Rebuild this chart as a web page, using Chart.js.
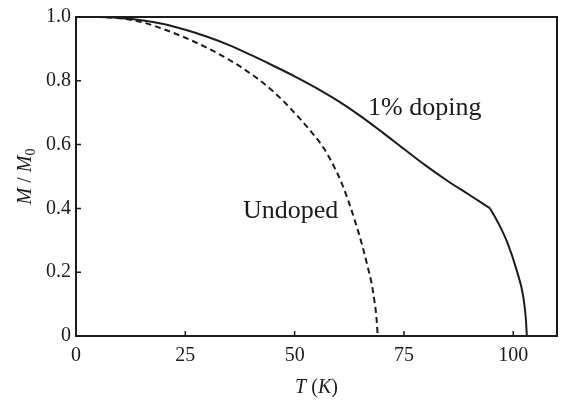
<!DOCTYPE html>
<html>
<head>
<meta charset="utf-8">
<script src="https://cdn.jsdelivr.net/npm/chart.js"></script>
<style>
  html, body { margin: 0; padding: 0; background: #fff; }
  #wrap { width: 564px; height: 401px; }
</style>
</head>
<body>
<div id="wrap"><canvas id="magChart" width="564" height="401"></canvas></div>
<script>
//DATA
let undopedT = [0, 5, 10, 15, 20, 25, 30, 35, 40, 45, 49, 53.5, 56.6, 58.8, 60.8, 62.5, 64, 65.5, 66.7, 67.6, 68.3, 68.7, 69];
let undopedM = [1.0, 1.0, 0.996, 0.984, 0.962, 0.935, 0.903, 0.866, 0.822, 0.768, 0.714, 0.645, 0.59, 0.537, 0.478, 0.415, 0.352, 0.282, 0.217, 0.165, 0.105, 0.06, 0];
let dopedT = [0, 5, 10, 15, 20, 25, 30, 35, 40, 45, 50, 55, 60, 65, 70, 75, 80, 85, 90, 94.7, 96.5, 98.5, 100.8, 102.3, 102.9, 103.1];
let dopedM = [1.0, 1.0, 0.997, 0.99, 0.978, 0.96, 0.938, 0.912, 0.881, 0.848, 0.814, 0.777, 0.736, 0.69, 0.639, 0.586, 0.534, 0.486, 0.442, 0.40, 0.356, 0.298, 0.205, 0.122, 0.05, 0];
let dopedKink = 94.7;
let xTicks = [0, 25, 50, 75, 100];
let yTicks = [0, 0.2, 0.4, 0.6, 0.8, 1.0];

let ink = "#1c1c1c";
let serif = "'Liberation Serif', 'DejaVu Serif', serif";

function toPoints(xs, ys) {
  return xs.map((x, i) => ({ x: x, y: ys[i] }));
}

//doped curve has a corner at the kink, so it is split in two pieces there
let kinkIdx = dopedT.indexOf(dopedKink);
let dopedLow = toPoints(dopedT, dopedM).slice(0, kinkIdx + 1);
let dopedHigh = toPoints(dopedT, dopedM).slice(kinkIdx);

//frame, inward ticks, axis titles and curve labels
let framePlugin = {
  id: "frame",
  afterDraw(chart) {
    let ctx = chart.ctx;
    let area = chart.chartArea;
    let xs = chart.scales.x;
    let ys = chart.scales.y;
    ctx.save();
    ctx.strokeStyle = ink;
    ctx.lineWidth = 2;
    ctx.strokeRect(area.left, area.top, area.right - area.left, area.bottom - area.top);

    ctx.lineWidth = 1.5;
    ctx.beginPath();
    for (let v of xTicks) {
      let px = xs.getPixelForValue(v);
      ctx.moveTo(px, area.bottom);
      ctx.lineTo(px, area.bottom - 5);
    }
    for (let v of yTicks) {
      let py = ys.getPixelForValue(v);
      ctx.moveTo(area.left, py);
      ctx.lineTo(area.left + 5, py);
    }
    ctx.stroke();

    ctx.fillStyle = ink;
    ctx.textBaseline = "alphabetic";

    // x title: T (K)
    let parts = [["italic 20px " + serif, "T"], ["20px " + serif, " ("], ["italic 20px " + serif, "K"], ["20px " + serif, ")"]];
    let total = 0;
    for (let p of parts) { ctx.font = p[0]; total += ctx.measureText(p[1]).width; }
    let cx = (area.left + area.right) / 2 - total / 2;
    for (let p of parts) {
      ctx.font = p[0];
      ctx.textAlign = "left";
      ctx.fillText(p[1], cx, 393);
      cx += ctx.measureText(p[1]).width;
    }

    // y title: M/M0
    ctx.save();
    ctx.translate(31, (area.top + area.bottom) / 2);
    ctx.rotate(-Math.PI / 2);
    let yParts = [["italic 20px " + serif, "M", 0], ["20px " + serif, " / ", 0], ["italic 20px " + serif, "M", 0], ["14px " + serif, "0", 4]];
    total = 0;
    for (let p of yParts) { ctx.font = p[0]; total += ctx.measureText(p[1]).width; }
    let tx = -total / 2;
    for (let p of yParts) {
      ctx.font = p[0];
      ctx.textAlign = "left";
      ctx.fillText(p[1], tx, p[2]);
      tx += ctx.measureText(p[1]).width;
    }
    ctx.restore();

    // curve labels
    ctx.font = "26px " + serif;
    ctx.textAlign = "left";
    ctx.fillText("1% doping", xs.getPixelForValue(66.8), ys.getPixelForValue(0.693));
    ctx.fillText("Undoped", xs.getPixelForValue(38.2), ys.getPixelForValue(0.37));
    ctx.restore();
  },
};

let solidLine = {
  showLine: true,
  borderColor: ink,
  borderWidth: 2,
  pointRadius: 0,
  cubicInterpolationMode: "monotone",
};

new Chart(document.getElementById("magChart"), {
  type: "scatter",
  data: {
    datasets: [
      Object.assign({}, solidLine, {
        label: "Undoped",
        data: toPoints(undopedT, undopedM),
        borderDash: [6, 4],
      }),
      Object.assign({}, solidLine, { label: "1% doping", data: dopedLow }),
      Object.assign({}, solidLine, { label: "1% doping (above kink)", data: dopedHigh }),
    ],
  },
  options: {
    responsive: false,
    animation: false,
    layout: { padding: { left: 0, right: 7, top: 14, bottom: 0 } },
    plugins: {
      legend: { display: false },
      tooltip: { enabled: false },
    },
    scales: {
      x: {
        type: "linear",
        min: 0,
        max: 110,
        afterBuildTicks: (scale) => {
          scale.ticks = xTicks.map((v) => ({ value: v }));
        },
        afterFit: (scale) => {
          scale.height = 65;
        },
        grid: { display: false, drawTicks: false },
        border: { display: false },
        ticks: {
          color: ink,
          padding: 8,
          maxRotation: 0,
          font: { family: serif, size: 20 },
        },
      },
      y: {
        type: "linear",
        min: 0,
        max: 1,
        afterBuildTicks: (scale) => {
          scale.ticks = yTicks.map((v) => ({ value: v }));
        },
        afterFit: (scale) => {
          scale.width = 76;
        },
        grid: { display: false, drawTicks: false },
        border: { display: false },
        ticks: {
          color: ink,
          padding: 5,
          font: { family: serif, size: 20 },
          callback: (v) => (v === 0 ? "0" : v.toFixed(1)),
        },
      },
    },
  },
  plugins: [framePlugin],
});
</script>
</body>
</html>
